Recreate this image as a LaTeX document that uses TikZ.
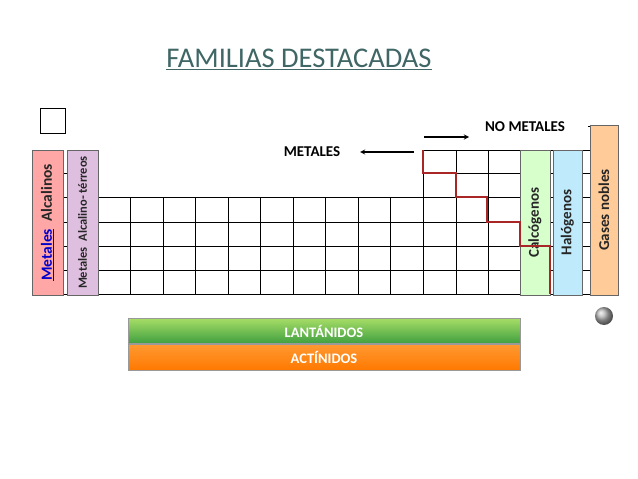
\documentclass[tikz,border=0pt]{standalone}
\usepackage{fontspec}
\setmainfont{Carlito}
\begin{document}
\begin{tikzpicture}[x=1pt,y=-1pt,
  grid/.style={black,line width=1pt},
  fam/.style={draw=black!60,line width=0.6pt},
  rlab/.style={rotate=90,font=\bfseries,text=black!85},
  bar/.style={draw=black!40,line width=0.5pt},
  barlab/.style={text=white,font=\bfseries\fontsize{14.5}{15}\selectfont}]
\useasboundingbox (0,0) rectangle (638,479);
% title
\node[text=teal!40!black!75,font=\fontsize{28.5}{30}\selectfont] (title) at (299,59) {\underline{FAMILIAS DESTACADAS}};
% H box
\draw[grid] (40,108) rectangle (65,133);
% main grid rows 4-7
\foreach \y in {197,222,246,270,294} \draw[grid] (63,\y) -- (590,\y);
\foreach \x in {98,130,163,195,228,260,293,325,358,390,423,456,488,520,553,590} \draw[grid] (\x,197) -- (\x,294);
% rows 2-3 right part
\foreach \y in {150,173} \draw[grid] (423,\y) -- (590,\y);
\foreach \x in {423,456,488,520,553,590} \draw[grid] (\x,150) -- (\x,197);
\draw[grid] (588,126) -- (590,126) -- (590,150);
% left tick marks
\foreach \y in {173,197,222,246,270} \draw[grid] (60,\y) -- (68,\y);
% family boxes
\node[fam,fill=red!35,minimum width=31pt,minimum height=145pt,inner sep=0pt] (alc) at (47.5,222.5) {};
\node[rlab,font=\bfseries\fontsize{15.5}{16}\selectfont] at (alc) {\textcolor{blue!80!black}{\underline{Metales}}\ \ Alcalinos};
\node[fam,fill=violet!25,minimum width=31pt,minimum height=145pt,inner sep=0pt] (alt) at (82.5,222.5) {};
\node[rlab,font=\bfseries\fontsize{12.5}{13}\selectfont] at (alt) {Metales\ \ Alcalino- t\'erreos};
\node[fam,fill=lime!30!green!20,minimum width=30pt,minimum height=145pt,inner sep=0pt] (cal) at (535,222.5) {};
\node[fam,fill=cyan!25,minimum width=29pt,minimum height=145pt,inner sep=0pt] (hal) at (567.5,222.5) {};
\node[fam,fill=orange!40,minimum width=28pt,minimum height=170pt,inner sep=0pt] (gas) at (604,210) {};
\node[rlab,font=\bfseries\fontsize{15}{16}\selectfont] at (cal) {Calc\'ogenos};
\node[rlab,font=\bfseries\fontsize{15}{16}\selectfont] at (hal) {Hal\'ogenos};
\node[rlab,font=\bfseries\fontsize{15}{16}\selectfont] at (gas) {Gases nobles};
% staircase
\draw[red!60!black!85,line width=2.6pt] (423,150) -- (423,173) -- (456,173) -- (456,197) -- (487,197) -- (487,222) -- (520,222) -- (520,246) -- (550,246) -- (550,294);
% labels and arrows
\node[font=\bfseries\fontsize{15}{16}\selectfont] (met) at (312,152) {METALES};
\coordinate (m1) at (414,152); \coordinate (m2) at (360,152);
\draw[->,line width=1.3pt,>=stealth] (m1) -- (m2);
\node[font=\bfseries\fontsize{15}{16}\selectfont] (nomet) at (525,127) {NO METALES};
\coordinate (n1) at (424,137); \coordinate (n2) at (469,137);
\draw[->,line width=1.3pt,>=stealth] (n1) -- (n2);
% bottom bars
\draw[grid] (130,318) -- (520,318);
\node[bar,top color=green!50!black!45!lime!60,bottom color=green!50!black!75,minimum width=392pt,minimum height=25pt,inner sep=0pt] (lan) at (324,331) {};
\node[barlab] at (lan) {LANT\'ANIDOS};
\node[bar,top color=orange!80,bottom color=orange!95!red,minimum width=392pt,minimum height=26pt,inner sep=0pt] (act) at (324,357) {};
\node[barlab] at (act) {ACT\'INIDOS};
% ball
\shade[ball color=gray!60] (604,316) circle (9);
\end{tikzpicture}
\end{document}
